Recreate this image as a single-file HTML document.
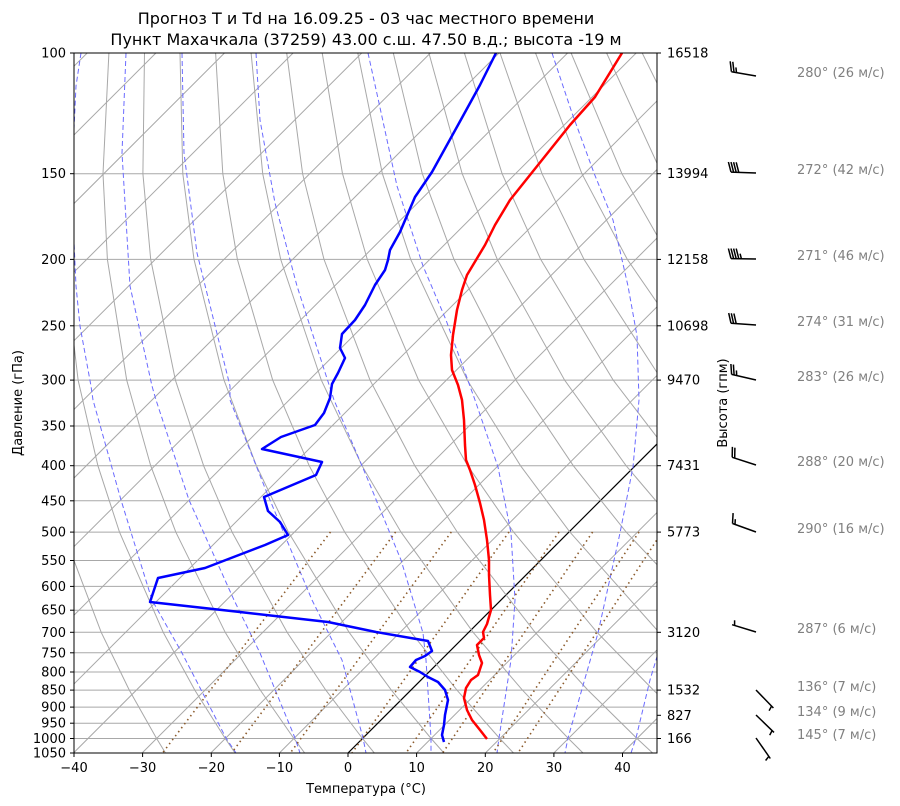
<!DOCTYPE html>
<html><head><meta charset="utf-8"><style>
body{margin:0;background:#fff}
svg{display:block;font-family:"DejaVu Sans","Liberation Sans",sans-serif}
</style></head><body>
<svg width="900" height="806" viewBox="0 0 900 806" xmlns="http://www.w3.org/2000/svg">
<defs><clipPath id="c"><rect x="74" y="53" width="583" height="700"/></clipPath></defs>
<rect width="900" height="806" fill="#fff"/>
<g clip-path="url(#c)" fill="none">
<!-- horizontal grid -->
<g stroke="#a8a8a8" stroke-width="1">
<line x1="74" x2="657" y1="173.7" y2="173.7"/><line x1="74" x2="657" y1="259.4" y2="259.4"/><line x1="74" x2="657" y1="325.8" y2="325.8"/><line x1="74" x2="657" y1="380.1" y2="380.1"/><line x1="74" x2="657" y1="426" y2="426"/><line x1="74" x2="657" y1="465.7" y2="465.7"/><line x1="74" x2="657" y1="500.8" y2="500.8"/><line x1="74" x2="657" y1="532.1" y2="532.1"/><line x1="74" x2="657" y1="560.5" y2="560.5"/><line x1="74" x2="657" y1="586.4" y2="586.4"/><line x1="74" x2="657" y1="610.2" y2="610.2"/><line x1="74" x2="657" y1="632.3" y2="632.3"/><line x1="74" x2="657" y1="652.8" y2="652.8"/><line x1="74" x2="657" y1="672" y2="672"/><line x1="74" x2="657" y1="690.1" y2="690.1"/><line x1="74" x2="657" y1="707.1" y2="707.1"/><line x1="74" x2="657" y1="723.2" y2="723.2"/><line x1="74" x2="657" y1="738.5" y2="738.5"/>
</g>
<!-- isotherms -->
<g stroke="#a8a8a8" stroke-width="1">
<line x1="-612.8" y1="753" x2="87.2" y2="53"/><line x1="-544.1" y1="753" x2="155.9" y2="53"/><line x1="-475.5" y1="753" x2="224.5" y2="53"/><line x1="-406.9" y1="753" x2="293.1" y2="53"/><line x1="-338.3" y1="753" x2="361.7" y2="53"/><line x1="-269.6" y1="753" x2="430.4" y2="53"/><line x1="-201" y1="753" x2="499" y2="53"/><line x1="-132.4" y1="753" x2="567.6" y2="53"/><line x1="-63.8" y1="753" x2="636.2" y2="53"/><line x1="4.9" y1="753" x2="704.9" y2="53"/><line x1="73.5" y1="753" x2="773.5" y2="53"/><line x1="142.1" y1="753" x2="842.1" y2="53"/><line x1="210.8" y1="753" x2="910.8" y2="53"/><line x1="279.4" y1="753" x2="979.4" y2="53"/><line x1="416.6" y1="753" x2="1116.6" y2="53"/><line x1="485.4" y1="753" x2="1185.4" y2="53"/><line x1="553.9" y1="753" x2="1253.9" y2="53"/><line x1="622.5" y1="753" x2="1322.5" y2="53"/>
</g>
<line x1="348" y1="753" x2="1048" y2="53" stroke="#000" stroke-width="1.2"/>
<!-- dry adiabats -->
<g stroke="#a8a8a8" stroke-width="1">
<polyline points="165.5,753 156.6,738.5 129.3,690.1 101.2,632.3 63.2,532.1 45.1,465.7 29.4,380.1 20.7,259.4 23.2,173.7 37.8,53"/>
<polyline points="235.1,753 225.2,738.5 194.8,690.1 163.2,632.3 119.5,532.1 97.9,465.7 78.1,380.1 64.0,259.4 63.1,173.7 73.4,53"/>
<polyline points="304.7,753 293.9,738.5 260.3,690.1 225.2,632.3 175.8,532.1 150.7,465.7 126.7,380.1 107.4,259.4 103.0,173.7 108.9,53"/>
<polyline points="374.3,753 362.5,738.5 325.8,690.1 287.1,632.3 232.1,532.1 203.6,465.7 175.4,380.1 150.7,259.4 142.9,173.7 144.5,53"/>
<polyline points="443.9,753 431.1,738.5 391.3,690.1 349.1,632.3 288.4,532.1 256.4,465.7 224.0,380.1 194.0,259.4 182.8,173.7 180.0,53"/>
<polyline points="513.5,753 499.8,738.5 456.9,690.1 411.1,632.3 344.7,532.1 309.2,465.7 272.7,380.1 237.4,259.4 222.8,173.7 215.6,53"/>
<polyline points="583.0,753 568.4,738.5 522.4,690.1 473.1,632.3 401.0,532.1 362.0,465.7 321.3,380.1 280.7,259.4 262.7,173.7 251.1,53"/>
<polyline points="652.6,753 637.0,738.5 587.9,690.1 535.1,632.3 457.3,532.1 414.8,465.7 370.0,380.1 324.0,259.4 302.6,173.7 286.7,53"/>
<polyline points="722.2,753 705.6,738.5 653.4,690.1 597.0,632.3 513.6,532.1 467.7,465.7 418.6,380.1 367.3,259.4 342.5,173.7 322.2,53"/>
<polyline points="791.8,753 774.3,738.5 718.9,690.1 659.0,632.3 569.9,532.1 520.5,465.7 467.3,380.1 410.7,259.4 382.4,173.7 357.8,53"/>
<polyline points="861.4,753 842.9,738.5 784.4,690.1 721.0,632.3 626.2,532.1 573.3,465.7 515.9,380.1 454.0,259.4 422.3,173.7 393.3,53"/>
<polyline points="931.0,753 911.5,738.5 849.9,690.1 783.0,632.3 682.5,532.1 626.1,465.7 564.6,380.1 497.3,259.4 462.2,173.7 428.9,53"/>
<polyline points="1000.6,753 980.2,738.5 915.4,690.1 844.9,632.3 738.8,532.1 678.9,465.7 613.2,380.1 540.7,259.4 502.1,173.7 464.4,53"/>
<polyline points="1070.2,753 1048.8,738.5 981.0,690.1 906.9,632.3 795.1,532.1 731.8,465.7 661.9,380.1 584.0,259.4 542.0,173.7 500.0,53"/>
<polyline points="1139.8,753 1117.4,738.5 1046.5,690.1 968.9,632.3 851.4,532.1 784.6,465.7 710.5,380.1 627.3,259.4 581.9,173.7 535.5,53"/>
<polyline points="1209.4,753 1186.0,738.5 1112.0,690.1 1030.9,632.3 907.7,532.1 837.4,465.7 759.2,380.1 670.7,259.4 621.9,173.7 571.1,53"/>
<polyline points="1279.0,753 1254.7,738.5 1177.5,690.1 1092.9,632.3 964.0,532.1 890.2,465.7 807.8,380.1 714.0,259.4 661.8,173.7 606.6,53"/>
<polyline points="1348.5,753 1323.3,738.5 1243.0,690.1 1154.8,632.3 1020.3,532.1 943.0,465.7 856.5,380.1 757.3,259.4 701.7,173.7 642.2,53"/>
</g>
<!-- moist adiabats -->
<g stroke="#6b6bff" stroke-width="1" stroke-dasharray="5,3">
<polyline points="81,53 76,86 73,150 73,220 76,286 80,326 91,386 93,400 121,500 152,600 182,653 226,738 236,753"/>
<polyline points="126,53 122,153 130,286 152,386 156,400 189,500 234,600 260,653 295,738 300,753"/>
<polyline points="182,53 184,153 197,253 230,386 230,400 267,493 312,600 342,660 363,738 366,753"/>
<polyline points="256,53 260,120 275,203 297,286 334,400 368,480 401,560 423,633 426,660 431,738 431,753"/>
<polyline points="368,53 379,103 397,186 423,266 446,320 475,400 498,467 511,533 515,600 511,660 499,738 497,753"/>
<polyline points="552,53 572,113 594,173 613,220 628,286 637,336 639,400 633,467 620,533 598,633 568,738 565,753"/>
<polyline points="631,753 636,738 650,680 662,640"/>
</g>
<!-- mixing ratio -->
<g stroke="#8b5a2b" stroke-width="1.6" stroke-dasharray="1.5,3.5">
<line x1="330.5" y1="532" x2="162.5" y2="753"/><line x1="395.6" y1="532" x2="231.6" y2="753"/><line x1="451.3" y1="532" x2="290.3" y2="753"/><line x1="509" y1="532" x2="352" y2="753"/><line x1="559" y1="532" x2="406" y2="753"/><line x1="592.6" y1="532" x2="442.6" y2="753"/><line x1="639" y1="532" x2="493" y2="753"/><line x1="662" y1="532" x2="518" y2="753"/>
</g>
<polyline stroke="#f00" stroke-width="2.5" stroke-linejoin="round" points="487,739 480,730 472,720 467,710 464,698 466,688 471,680 478,675 482,663 479,655 477,645 484,638 483,632 487,624 491,610 490,595 489,575 489,560 487,540 484,520 480,503 475,485 470,470 466,460 465,445 464,420 462,400 458,385 452,370 451,355 453,335 457,310 462,290 467,275 476,260 485,245 495,225 510,200 530,175 550,150 570,125 595,97 622,53"/>
<polyline stroke="#00f" stroke-width="2.5" stroke-linejoin="round" points="444,742 442,735 444,725 445,715 448,700 445,690 438,682 428,677 420,672 410,667 416,660 425,656 432,651 428,641 376,632 328,622 240,612 150,602 158,578 205,568 265,545 288,535 280,522 268,511 264,497 316,475 322,462 262,449 281,437 315,425 324,413 330,398 332,384 338,373 345,358 340,348 342,334 355,320 365,305 375,285 385,270 388,260 390,250 400,232 415,197 432,172 458,125 480,85 496,53"/>
</g>
<rect x="74" y="53" width="583" height="700" fill="none" stroke="#000" stroke-width="1"/>
<!-- left ticks -->
<g stroke="#000" stroke-width="1">
<line x1="70" x2="74" y1="53" y2="53"/><line x1="70" x2="74" y1="173.7" y2="173.7"/><line x1="70" x2="74" y1="259.4" y2="259.4"/><line x1="70" x2="74" y1="325.8" y2="325.8"/><line x1="70" x2="74" y1="380.1" y2="380.1"/><line x1="70" x2="74" y1="426" y2="426"/><line x1="70" x2="74" y1="465.7" y2="465.7"/><line x1="70" x2="74" y1="500.8" y2="500.8"/><line x1="70" x2="74" y1="532.1" y2="532.1"/><line x1="70" x2="74" y1="560.5" y2="560.5"/><line x1="70" x2="74" y1="586.4" y2="586.4"/><line x1="70" x2="74" y1="610.2" y2="610.2"/><line x1="70" x2="74" y1="632.3" y2="632.3"/><line x1="70" x2="74" y1="652.8" y2="652.8"/><line x1="70" x2="74" y1="672" y2="672"/><line x1="70" x2="74" y1="690.1" y2="690.1"/><line x1="70" x2="74" y1="707.1" y2="707.1"/><line x1="70" x2="74" y1="723.2" y2="723.2"/><line x1="70" x2="74" y1="738.5" y2="738.5"/><line x1="70" x2="74" y1="753" y2="753"/>
<line x1="74" x2="74" y1="753" y2="757"/><line x1="142.6" x2="142.6" y1="753" y2="757"/><line x1="211.3" x2="211.3" y1="753" y2="757"/><line x1="279.4" x2="279.4" y1="753" y2="757"/><line x1="348" x2="348" y1="753" y2="757"/><line x1="416.6" x2="416.6" y1="753" y2="757"/><line x1="485.3" x2="485.3" y1="753" y2="757"/><line x1="553.9" x2="553.9" y1="753" y2="757"/><line x1="622.5" x2="622.5" y1="753" y2="757"/>
<line x1="657" x2="661" y1="53" y2="53"/><line x1="657" x2="661" y1="173.7" y2="173.7"/><line x1="657" x2="661" y1="259.4" y2="259.4"/><line x1="657" x2="661" y1="325.8" y2="325.8"/><line x1="657" x2="661" y1="380.1" y2="380.1"/><line x1="657" x2="661" y1="465.7" y2="465.7"/><line x1="657" x2="661" y1="532.1" y2="532.1"/><line x1="657" x2="661" y1="632.3" y2="632.3"/><line x1="657" x2="661" y1="690.1" y2="690.1"/><line x1="657" x2="661" y1="715.3" y2="715.3"/><line x1="657" x2="661" y1="738.5" y2="738.5"/>
</g>
<g font-size="13" fill="#000" text-anchor="end">
<text x="66" y="57.5">100</text><text x="66" y="178.2">150</text><text x="66" y="263.9">200</text><text x="66" y="330.3">250</text><text x="66" y="384.6">300</text><text x="66" y="430.5">350</text><text x="66" y="470.2">400</text><text x="66" y="505.3">450</text><text x="66" y="536.6">500</text><text x="66" y="565">550</text><text x="66" y="590.9">600</text><text x="66" y="614.7">650</text><text x="66" y="636.8">700</text><text x="66" y="657.3">750</text><text x="66" y="676.5">800</text><text x="66" y="694.6">850</text><text x="66" y="711.6">900</text><text x="66" y="727.7">950</text><text x="66" y="743">1000</text><text x="66" y="757.5">1050</text>
</g>
<g font-size="13" fill="#000" text-anchor="middle">
<text x="74" y="772">−40</text><text x="142.6" y="772">−30</text><text x="211.3" y="772">−20</text><text x="279.4" y="772">−10</text><text x="348" y="772">0</text><text x="416.6" y="772">10</text><text x="485.3" y="772">20</text><text x="553.9" y="772">30</text><text x="622.5" y="772">40</text>
</g>
<g font-size="13" fill="#000">
<text x="667" y="57.5">16518</text><text x="667" y="178.2">13994</text><text x="667" y="263.9">12158</text><text x="667" y="330.3">10698</text><text x="667" y="384.6">9470</text><text x="667" y="470.2">7431</text><text x="667" y="536.6">5773</text><text x="667" y="636.8">3120</text><text x="667" y="694.6">1532</text><text x="667" y="719.8">827</text><text x="667" y="743">166</text>
</g>
<text x="366" y="24" font-size="16" text-anchor="middle">Прогноз T и Td на 16.09.25 - 03 час местного времени</text>
<text x="366" y="45" font-size="16" text-anchor="middle">Пункт Махачкала (37259) 43.00 с.ш. 47.50 в.д.; высота -19 м</text>
<text x="366" y="793" font-size="13" text-anchor="middle">Температура (°C)</text>
<text transform="translate(22,403) rotate(-90)" font-size="13" text-anchor="middle">Давление (гПа)</text>
<text transform="translate(727,403) rotate(-90)" font-size="13" text-anchor="middle">Высота (гпм)</text>
<!-- wind barbs -->
<g stroke="#000" stroke-width="1.5" fill="none">
<line x1="756" y1="76" x2="731.4" y2="71.7"/><line x1="731.4" y1="71.7" x2="730.2" y2="61.3"/><line x1="734" y1="72.2" x2="732.8" y2="61.8"/><line x1="736.5" y1="72.6" x2="735.9" y2="67.4"/>
<line x1="756" y1="173" x2="731" y2="172.1"/><line x1="731" y1="172.1" x2="728.4" y2="162"/><line x1="733.6" y1="172.2" x2="731" y2="162.1"/><line x1="736.2" y1="172.3" x2="733.6" y2="162.2"/><line x1="738.8" y1="172.4" x2="736.2" y2="162.3"/>
<line x1="756" y1="259" x2="731" y2="258.6"/><line x1="731" y1="258.6" x2="728.4" y2="248.5"/><line x1="733.6" y1="258.6" x2="731" y2="248.5"/><line x1="736.2" y1="258.7" x2="733.6" y2="248.6"/><line x1="738.8" y1="258.7" x2="736.2" y2="248.6"/><line x1="741.4" y1="258.8" x2="740.1" y2="253.7"/>
<line x1="756" y1="325" x2="731" y2="323.3"/><line x1="731" y1="323.3" x2="728.7" y2="313.1"/><line x1="733.6" y1="323.5" x2="731.3" y2="313.3"/><line x1="736.2" y1="323.7" x2="733.9" y2="313.5"/>
<line x1="756" y1="380" x2="731.6" y2="374.4"/><line x1="731.6" y1="374.4" x2="730.9" y2="364"/><line x1="734.1" y1="375" x2="733.4" y2="364.6"/><line x1="736.7" y1="375.6" x2="736.4" y2="370.4"/>
<line x1="756" y1="465" x2="732.2" y2="457.3"/><line x1="732.2" y1="457.3" x2="732.4" y2="446.9"/><line x1="734.7" y1="458.1" x2="734.9" y2="447.7"/>
<line x1="756" y1="532" x2="732.5" y2="523.5"/><line x1="732.5" y1="523.5" x2="733.1" y2="513.1"/><line x1="735" y1="524.4" x2="735.3" y2="519.2"/>
<line x1="756" y1="632" x2="732.1" y2="624.7"/><line x1="734.6" y1="625.5" x2="734.6" y2="620.3"/>
<line x1="756" y1="690" x2="773.4" y2="708"/><line x1="771.6" y1="706.1" x2="769.1" y2="710.7"/>
<line x1="756" y1="715" x2="774" y2="732.4"/><line x1="772.1" y1="730.6" x2="769.7" y2="735.2"/>
<line x1="756" y1="738" x2="770.3" y2="758.5"/><line x1="768.8" y1="756.4" x2="765.6" y2="760.5"/>
</g>
<g font-size="13" fill="#808080">
<text x="797" y="77">280° (26 м/с)</text><text x="797" y="174">272° (42 м/с)</text><text x="797" y="260">271° (46 м/с)</text><text x="797" y="326">274° (31 м/с)</text><text x="797" y="381">283° (26 м/с)</text><text x="797" y="466">288° (20 м/с)</text><text x="797" y="533">290° (16 м/с)</text><text x="797" y="633">287° (6 м/с)</text><text x="797" y="691">136° (7 м/с)</text><text x="797" y="716">134° (9 м/с)</text><text x="797" y="739">145° (7 м/с)</text>
</g>
</svg>
</body></html>
